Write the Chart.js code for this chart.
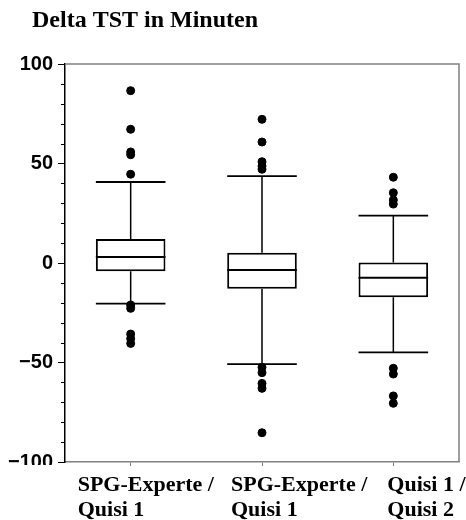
<!DOCTYPE html>
<html>
<head>
<meta charset="utf-8">
<script src="https://cdn.jsdelivr.net/npm/chart.js@4/dist/chart.umd.min.js"></script>
<style>
  html, body { margin: 0; padding: 0; background: #fff; }
</style>
</head>
<body>
<canvas id="chart" width="466" height="520"></canvas>
<script>
// Chart heading
const chartTitle = 'Delta TST in Minuten';

// Comparison groups (two-line axis labels)
const categories = [
  ['SPG-Experte /', 'Quisi 1'],
  ['SPG-Experte /', 'Quisi 1'],
  ['Quisi 1 /', 'Quisi 2']
];

// Box plot statistics, Delta TST in minutes
const q1Values = [-4.2, -12.9, -17.2];
const medianValues = [3.0, -3.5, -7.4];
const q3Values = [12.1, 5.2, 0.3];
const whiskerLow = [-20.4, -50.8, -44.9];
const whiskerHigh = [40.7, 43.7, 23.8];

// Outliers per group
const outliersGroup1 = [86.6, 67.2, 55.8, 54.4, 44.6, -21.1, -22.8, -35.7, -38.0, -40.4];
const outliersGroup2 = [72.2, 60.8, 50.9, 48.7, 47.1, -52.4, -55.1, -60.5, -63.0, -85.3];
const outliersGroup3 = [43.1, 35.3, 31.7, 29.6, -52.9, -55.8, -66.8, -70.5];

// Labelled y ticks
const yTickLabels = [100, 50, 0, -50, -100];

const outlierPoints = [outliersGroup1, outliersGroup2, outliersGroup3]
  .flatMap((vals, i) => vals.map(v => ({ x: i, y: v })));

const FRAME_GREY = '#808080';
const SERIF_BOLD = '"Liberation Serif", "Times New Roman", serif';
const labelShift = [-53, -31, -6];

const boxParts = {
  id: 'boxParts',
  beforeDatasetsDraw(chart) {
    const { ctx } = chart;
    const y = chart.scales.y;
    const meta = chart.getDatasetMeta(0);
    ctx.save();
    ctx.strokeStyle = '#000';
    meta.data.forEach((bar, i) => {
      const half = bar.width / 2;
      const yHi = y.getPixelForValue(whiskerHigh[i]);
      const yLo = y.getPixelForValue(whiskerLow[i]);
      const yQ3 = y.getPixelForValue(q3Values[i]);
      const yQ1 = y.getPixelForValue(q1Values[i]);
      // whisker stems
      ctx.lineWidth = 1.5;
      ctx.beginPath();
      ctx.moveTo(bar.x, yQ3); ctx.lineTo(bar.x, yHi);
      ctx.moveTo(bar.x, yQ1); ctx.lineTo(bar.x, yLo);
      ctx.stroke();
      // whisker caps
      ctx.lineWidth = 1.8;
      ctx.beginPath();
      ctx.moveTo(bar.x - half, yHi); ctx.lineTo(bar.x + half, yHi);
      ctx.moveTo(bar.x - half, yLo); ctx.lineTo(bar.x + half, yLo);
      ctx.stroke();
    });
    ctx.restore();
  },
  afterDatasetsDraw(chart) {
    const { ctx } = chart;
    const y = chart.scales.y;
    const meta = chart.getDatasetMeta(0);
    ctx.save();
    ctx.strokeStyle = '#000';
    ctx.lineWidth = 2;
    meta.data.forEach((bar, i) => {
      const half = bar.width / 2;
      const ym = y.getPixelForValue(medianValues[i]);
      ctx.beginPath();
      ctx.moveTo(bar.x - half, ym); ctx.lineTo(bar.x + half, ym);
      ctx.stroke();
    });
    ctx.restore();
  },
  afterDraw(chart) {
    const { ctx, chartArea: a } = chart;
    const x = chart.scales.x;
    const y = chart.scales.y;
    ctx.save();
    // heading
    ctx.fillStyle = '#000';
    ctx.font = 'bold 24px ' + SERIF_BOLD;
    ctx.textAlign = 'left';
    ctx.textBaseline = 'alphabetic';
    ctx.fillText(chartTitle, 32, 27);
    // top and right frame
    ctx.strokeStyle = FRAME_GREY;
    ctx.lineWidth = 1.5;
    ctx.beginPath();
    ctx.moveTo(a.left, a.top); ctx.lineTo(a.right, a.top); ctx.lineTo(a.right, a.bottom);
    ctx.stroke();
    // minor y ticks
    ctx.strokeStyle = '#000';
    ctx.lineWidth = 1;
    y.ticks.forEach(t => {
      if (t.value % 50 !== 0) {
        const py = Math.round(y.getPixelForValue(t.value)) + 0.5;
        ctx.beginPath();
        ctx.moveTo(a.left - 4, py); ctx.lineTo(a.left, py);
        ctx.stroke();
      }
    });
    // lowest tick label is cut by the bottom edge of the plot
    ctx.fillStyle = '#fff';
    ctx.fillRect(0, a.bottom + 3, a.left - 8, 16);
    // category labels
    ctx.fillStyle = '#000';
    ctx.font = 'bold 22px ' + SERIF_BOLD;
    chart.data.labels.forEach((lines, i) => {
      const px = x.getPixelForValue(i) + labelShift[i];
      lines.forEach((line, j) => {
        ctx.fillText(line, px, a.bottom + 29 + j * 24.5);
      });
    });
    ctx.restore();
  }
};

new Chart(document.getElementById('chart'), {
  data: {
    labels: categories,
    datasets: [
      {
        type: 'bar',
        xAxisID: 'x',
        yAxisID: 'y',
        grouped: false,
        data: q1Values.map((v, i) => [v, q3Values[i]]),
        backgroundColor: '#fff',
        borderColor: '#000',
        borderWidth: 2,
        borderSkipped: false,
        categoryPercentage: 1,
        barPercentage: 0.53,
        order: 2
      },
      {
        type: 'scatter',
        xAxisID: 'xOut',
        yAxisID: 'y',
        data: outlierPoints,
        backgroundColor: '#000',
        borderColor: '#000',
        pointRadius: 4,
        pointHoverRadius: 4,
        order: 1
      }
    ]
  },
  options: {
    responsive: false,
    animation: false,
    layout: { padding: { left: 0, right: 7, top: 64, bottom: 0 } },
    plugins: {
      legend: { display: false },
      tooltip: { enabled: false },
      title: { display: false }
    },
    scales: {
      x: {
        type: 'category',
        offset: true,
        afterFit(s) { s.height = 58; },
        ticks: { display: false },
        grid: { display: true, offset: false, drawOnChartArea: false, tickLength: 4, color: FRAME_GREY },
        border: { display: true, color: FRAME_GREY, width: 1.5 }
      },
      // same span as the offset category axis, used to place outlier points
      xOut: {
        type: 'linear',
        axis: 'x',
        position: 'bottom',
        min: -0.5,
        max: 2.5,
        display: false
      },
      y: {
        min: -100,
        max: 100,
        afterFit(s) { s.width = 65; },
        ticks: {
          stepSize: 10,
          autoSkip: false,
          padding: 5,
          color: '#000',
          font: { family: '"Liberation Sans", Arial, sans-serif', size: 20, weight: 'bold' },
          callback: v => yTickLabels.includes(v) ? String(v).replace('-', '\u2212') : ''
        },
        grid: {
          drawOnChartArea: false,
          tickLength: 7,
          tickColor: c => (c.tick && c.tick.value % 50 === 0) ? '#000' : 'rgba(0,0,0,0)'
        },
        border: { display: true, color: '#000', width: 1.5 }
      }
    }
  },
  plugins: [boxParts]
});
</script>
</body>
</html>
